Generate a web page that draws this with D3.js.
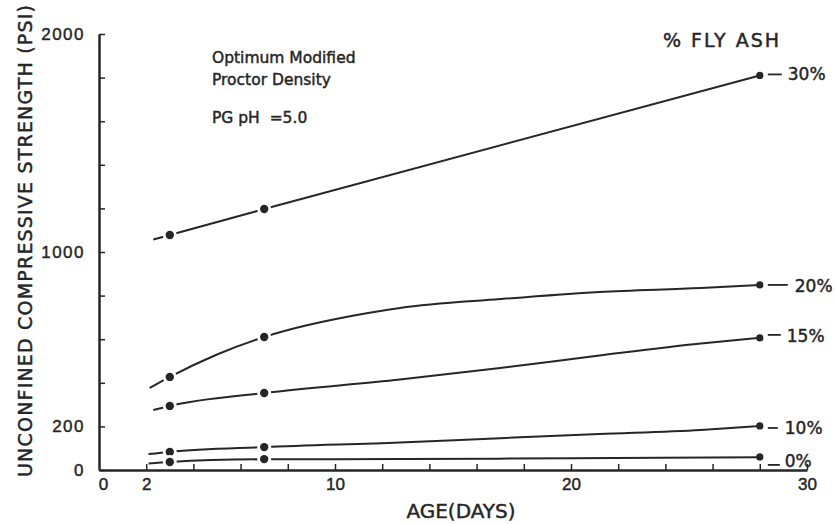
<!DOCTYPE html>
<html>
<head>
<meta charset="utf-8">
<script src="https://cdn.jsdelivr.net/npm/d3@7"></script>
<style>
  body { margin: 0; background: #fff; }
  svg { display: block; font-family: "DejaVu Sans", sans-serif; }
  .heavy { stroke: #262626; stroke-width: 0.45px; }
</style>
</head>
<body>
<div class="chart"></div>
<script>
// measured points (age in days, strength in psi)
const testDays = [3, 7, 28];
const psi30 = [1078, 1197, 1810];
const psi20 = [427, 610, 849];
const psi15 = [294, 353, 606];
const psi10 = [83, 105, 202];
const psi0 = [37, 50, 60];

// hand-drawn fit curves
const fitDays30 = [2.3, 3, 7, 28];
const fitPsi30 = [1057, 1078, 1197, 1810];
const fitDays20 = [2.15, 3, 5, 7, 11.4, 12.75, 17, 21.2, 25.5, 28];
const fitPsi20 = [376, 427, 530, 610, 720, 743, 784, 817, 835, 849];
const fitDays15 = [2.3, 3, 7, 12.75, 17, 21.2, 25.5, 28];
const fitPsi15 = [275, 294, 353, 415, 468, 525, 580, 606];
const fitDays10 = [2.1, 3, 7, 12.75, 17, 21.2, 25.5, 28];
const fitPsi10 = [73, 83, 105, 126, 146, 165, 184, 202];
const fitDays0 = [2.1, 3, 7, 12.75, 20, 28];
const fitPsi0 = [30, 37, 49, 50, 54, 58];

const ashLabels = ['30%', '20%', '15%', '10%', '0%'];
const yTickValues = [0, 200, 400, 600, 800, 1000, 1200, 1400, 1600, 1800, 2000];
const yTickLabels = [0, 200, 1000, 2000];
const xTickValues = [0, 2, 4, 6, 8, 10, 12, 14, 16, 18, 20, 22, 24, 26, 28, 30];
const xTickLabels = [0, 2, 10, 20, 30];

const series = [
  { label: ashLabels[0], pts: psi30, fd: fitDays30, fp: fitPsi30 },
  { label: ashLabels[1], pts: psi20, fd: fitDays20, fp: fitPsi20 },
  { label: ashLabels[2], pts: psi15, fd: fitDays15, fp: fitPsi15 },
  { label: ashLabels[3], pts: psi10, fd: fitDays10, fp: fitPsi10 },
  { label: ashLabels[4], pts: psi0, fd: fitDays0, fp: fitPsi0 }
];
// leader dash + label placement (px, relative to last point)
const labelLayout = [
  { dy: -1, len: 14, tx: 28, ty: 5 },
  { dy: 0, len: 20, tx: 35, ty: 7 },
  { dy: -3, len: 13, tx: 27, ty: 4 },
  { dy: 2, len: 10, tx: 25, ty: 8 },
  { dy: 8, len: 12, tx: 25, ty: 10 }
];

const ink = '#262626';
const width = 836, height = 525;

const svg = d3.select('.chart')
              .append('svg')
              .attr('width', width)
              .attr('height', height)
              .style('background-color', '#fff');

const x = d3.scaleLinear().domain([0, 30]).range([99, 807]);
const y = d3.scaleLinear().domain([0, 2000]).range([470, 34]);

// y axis, ticks pointing inward
const yAxis = d3.axisLeft(y)
                .tickValues(yTickValues)
                .tickSizeInner(-6)
                .tickSizeOuter(0)
                .tickPadding(14)
                .tickFormat(d => yTickLabels.includes(d) ? d : '');
const gy = svg.append('g').attr('transform', 'translate(99,0)').call(yAxis);
gy.select('.domain').attr('stroke', ink).attr('stroke-width', 2.5);
gy.selectAll('.tick line').attr('stroke', ink).attr('stroke-width', 1.5);
gy.selectAll('.tick text').attr('fill', ink).attr('class', 'heavy')
  .style('font-size', '17px').style('letter-spacing', '1.5px');

// x axis
const xAxis = d3.axisBottom(x)
                .tickValues(xTickValues)
                .tickSizeInner(-6)
                .tickSizeOuter(0)
                .tickPadding(8)
                .tickFormat(d => xTickLabels.includes(d) ? d : '');
const gx = svg.append('g').attr('transform', 'translate(0,470)').call(xAxis);
gx.select('.domain').attr('stroke', ink).attr('stroke-width', 2.5);
gx.selectAll('.tick line').attr('stroke', ink).attr('stroke-width', 1.5);
gx.selectAll('.tick text').attr('fill', ink).attr('class', 'heavy').style('font-size', '17px');
gx.selectAll('.tick').filter(d => d === 0).select('line').remove();
gx.selectAll('.tick').filter(d => d === 0).select('text').attr('x', 4);

// axis titles
svg.append('text')
   .attr('transform', 'translate(32,241) rotate(-90)')
   .attr('text-anchor', 'middle')
   .attr('fill', ink)
   .attr('class', 'heavy')
   .style('font-size', '19px')
   .attr('textLength', 472)
   .attr('lengthAdjust', 'spacing')
   .text('UNCONFINED COMPRESSIVE STRENGTH (PSI)');

svg.append('text')
   .attr('x', 461).attr('y', 518)
   .attr('text-anchor', 'middle')
   .attr('fill', ink)
   .attr('class', 'heavy')
   .style('font-size', '20px')
   .text('AGE(DAYS)');

// notes
const notes = svg.append('g').attr('fill', ink).attr('class', 'heavy').style('font-size', '15.5px');
notes.append('text').attr('x', 212).attr('y', 63).text('Optimum Modified');
notes.append('text').attr('x', 212).attr('y', 85).text('Proctor Density');
notes.append('text').attr('x', 212).attr('y', 123).attr('xml:space', 'preserve').text('PG pH  =5.0');

svg.append('text')
   .attr('x', 663).attr('y', 47)
   .attr('fill', ink)
   .attr('class', 'heavy')
   .style('font-size', '19px')
   .style('letter-spacing', '2px')
   .text('% FLY ASH');

// curves
const line = d3.line()
               .x(d => x(d[0]))
               .y(d => y(d[1]))
               .curve(d3.curveMonotoneX);

const groups = svg.selectAll('g.series')
                  .data(series)
                  .enter()
                  .append('g')
                  .attr('class', 'series');

groups.append('path')
      .attr('d', s => line(d3.zip(s.fd, s.fp)))
      .attr('fill', 'none')
      .attr('stroke', ink)
      .attr('stroke-width', 2);

// white halo under the early markers so the line breaks round them
groups.selectAll('circle.halo')
      .data(s => d3.zip(testDays, s.pts).filter(d => d[0] < 28))
      .enter()
      .append('circle')
      .attr('class', 'halo')
      .attr('cx', d => x(d[0]))
      .attr('cy', d => y(d[1]))
      .attr('r', 7)
      .attr('fill', '#fff');

groups.selectAll('circle.dot')
      .data(s => d3.zip(testDays, s.pts))
      .enter()
      .append('circle')
      .attr('class', 'dot')
      .attr('cx', d => x(d[0]))
      .attr('cy', d => y(d[1]))
      .attr('r', d => d[0] < 28 ? 4.2 : 3.6)
      .attr('fill', ink);

// end labels
groups.each(function(s, i) {
  const g = d3.select(this);
  const lay = labelLayout[i];
  const px = x(testDays[2]), py = y(s.pts[2]);
  g.append('line')
   .attr('x1', px + 8).attr('x2', px + 8 + lay.len)
   .attr('y1', py + lay.dy).attr('y2', py + lay.dy)
   .attr('stroke', ink).attr('stroke-width', 1.8);
  g.append('text')
   .attr('x', px + lay.tx).attr('y', py + lay.ty)
   .attr('fill', ink)
   .attr('class', 'heavy')
   .style('font-size', '17px')
   .text(s.label);
});
</script>
</body>
</html>
